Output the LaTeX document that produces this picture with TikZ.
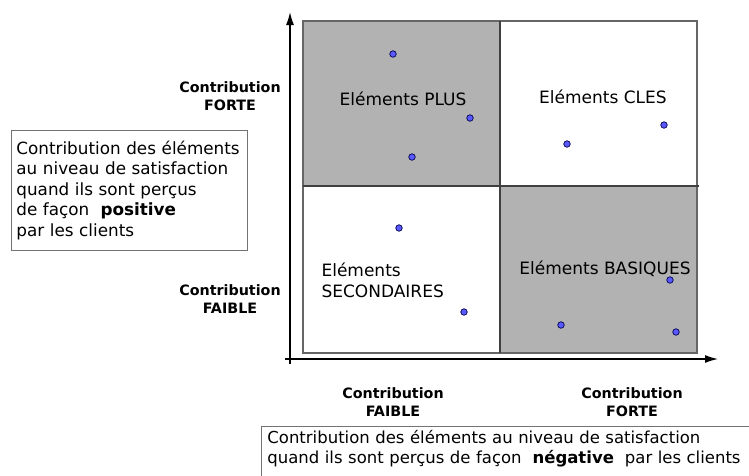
\documentclass[tikz,border=0pt]{standalone}
\usepackage{fontspec}
\setmainfont{DejaVu Sans}
\usetikzlibrary{positioning,arrows.meta}

\tikzset{
 axe/.style={line width=1.3pt,-{Latex[length=13pt,width=8pt]}},
 sombre/.style={fill=black!30},
 pt/.style={circle,fill=blue!65!white,draw=blue!30!black,line width=0.7pt,inner sep=0pt,minimum size=6.5pt},
 titre/.style={font=\bfseries\fontsize{14.3}{18}\selectfont,align=center},
 elem/.style={font=\fontsize{17}{21}\selectfont},
 legende/.style={draw=black!55,line width=0.8pt,font=\fontsize{16.8}{20.5}\selectfont,align=left}
}

\begin{document}
\begin{tikzpicture}[x=1pt,y=-1pt]
\useasboundingbox (0,0) rectangle (749,475);

% quadrants
\fill[sombre] (303,21) rectangle (500,186);
\fill[sombre] (500,186) rectangle (697,353);
\draw[black!60,line width=1.2pt] (303,21) rectangle (697,353);
\draw[black!75,line width=1.4pt] (500,21) -- (500,353);
\draw[black!75,line width=1.4pt] (303,186) -- (699,186);

% axes
\coordinate (o) at (290,364);
\coordinate (ytop) at (290,12);
\coordinate (xo) at (285,359);
\coordinate (xend) at (718,359);
\draw[axe] (o) -- (ytop);
\draw[axe] (xo) -- (xend);

\node[elem] (plus) at (403,99) {Eléments PLUS};
\node[elem] (cles) at (603,97) {Eléments CLES};
\node[elem,align=left,anchor=west] (sec) at (318,280) {Eléments\\SECONDAIRES};
\node[elem] (bas) at (605,269) {Eléments BASIQUES};

\foreach \x/\y [count=\i] in {393/54,470/118,412/157,567/144,664/125,399/228,464/312,670/280,561/325,676/332}
  \node[pt] (p\i) at (\x,\y) {};

\node[titre] (fortey) at (230,96) {Contribution\\FORTE};
\node[titre] (faibley) at (230,299) {Contribution\\FAIBLE};
\node[titre] (faiblex) at (393,402) {Contribution\\FAIBLE};
\node[titre] (fortex) at (632,402) {Contribution\\FORTE};

\node[legende,anchor=north west,minimum width=236pt,minimum height=120pt,text width=226pt,inner xsep=5pt] (boxpos) at (11,130)
 {Contribution des éléments\\au niveau de satisfaction\\quand ils sont perçus\\de façon \ \textbf{positive}\\par les clients};
\node[legende,anchor=north west,text width=500pt,inner xsep=6pt,inner ysep=4pt,text depth=40pt,font=\fontsize{16.5}{19.5}\selectfont] (boxneg) at (261,426)
 {Contribution des éléments au niveau de satisfaction\\quand ils sont perçus de façon \ \textbf{négative} \ par les clients};
\end{tikzpicture}
\end{document}
